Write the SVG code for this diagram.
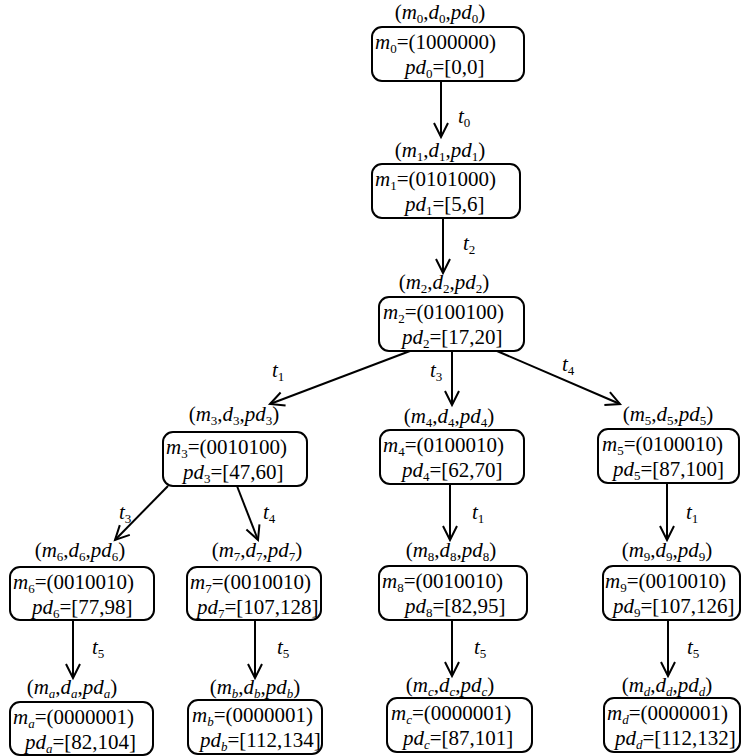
<svg xmlns="http://www.w3.org/2000/svg" width="742" height="756" viewBox="0 0 742 756" font-family="'Liberation Serif', 'Times New Roman', 'DejaVu Serif', serif">
<defs>
<marker id="ah" markerUnits="userSpaceOnUse" markerWidth="20" markerHeight="20" viewBox="-16 -10 20 20" refX="0" refY="0" orient="auto">
<path d="M-14,-7 L0,0 L-14,7" fill="none" stroke="#000" stroke-width="2"/>
</marker>
<style>
text{font-family:'Liberation Serif','Times New Roman','DejaVu Serif',serif;font-size:21px;fill:#000}
.i{font-style:italic}
.sb{font-size:13px;baseline-shift:-4px;font-style:normal}
.si{font-size:13px;baseline-shift:-4px;font-style:italic}
.box{fill:#fff;stroke:#000;stroke-width:2}
.edge{stroke:#000;stroke-width:2;fill:none;marker-end:url(#ah)}
</style>
</defs>
<rect width="742" height="756" fill="#fff"/>
<g id="connectors">
<line class="edge" x1="441" y1="81" x2="441" y2="137"/>
<line class="edge" x1="443" y1="218" x2="443" y2="273"/>
<line class="edge" x1="410" y1="351" x2="270" y2="404"/>
<line class="edge" x1="452" y1="351" x2="452" y2="405"/>
<line class="edge" x1="497" y1="351" x2="620" y2="404"/>
<line class="edge" x1="168" y1="486" x2="115" y2="540"/>
<line class="edge" x1="237" y1="486" x2="258" y2="540"/>
<line class="edge" x1="450" y1="484" x2="450" y2="540"/>
<line class="edge" x1="667" y1="483" x2="667" y2="540"/>
<line class="edge" x1="73" y1="620" x2="73" y2="678"/>
<line class="edge" x1="255" y1="620" x2="255" y2="678"/>
<line class="edge" x1="452" y1="620" x2="452" y2="676"/>
<line class="edge" x1="668" y1="620" x2="668" y2="676"/>
<text class="i" x="458" y="123">t<tspan class="sb">0</tspan></text>
<text class="i" x="463" y="250">t<tspan class="sb">2</tspan></text>
<text class="i" x="272" y="377">t<tspan class="sb">1</tspan></text>
<text class="i" x="430" y="377">t<tspan class="sb">3</tspan></text>
<text class="i" x="562" y="371">t<tspan class="sb">4</tspan></text>
<text class="i" x="119" y="519">t<tspan class="sb">3</tspan></text>
<text class="i" x="263" y="519">t<tspan class="sb">4</tspan></text>
<text class="i" x="472" y="519">t<tspan class="sb">1</tspan></text>
<text class="i" x="686" y="519">t<tspan class="sb">1</tspan></text>
<text class="i" x="92" y="654">t<tspan class="sb">5</tspan></text>
<text class="i" x="277" y="654">t<tspan class="sb">5</tspan></text>
<text class="i" x="474" y="654">t<tspan class="sb">5</tspan></text>
<text class="i" x="687" y="654">t<tspan class="sb">5</tspan></text>
</g>
<g id="n0">
<text x="440" y="19" text-anchor="middle">(<tspan class="i">m</tspan><tspan class="sb">0</tspan>,<tspan class="i">d</tspan><tspan class="sb">0</tspan>,<tspan class="i">pd</tspan><tspan class="sb">0</tspan>)</text>
<rect class="box" x="372" y="27" width="152" height="54" rx="10"/>
<text x="375" y="49"><tspan class="i">m</tspan><tspan class="sb">0</tspan>=(1000000)</text>
<text x="405" y="74"><tspan class="i">pd</tspan><tspan class="sb">0</tspan>=[0,0]</text>
</g>
<g id="n1">
<text x="440" y="157" text-anchor="middle">(<tspan class="i">m</tspan><tspan class="sb">1</tspan>,<tspan class="i">d</tspan><tspan class="sb">1</tspan>,<tspan class="i">pd</tspan><tspan class="sb">1</tspan>)</text>
<rect class="box" x="372" y="164" width="148" height="54" rx="10"/>
<text x="375" y="186"><tspan class="i">m</tspan><tspan class="sb">1</tspan>=(0101000)</text>
<text x="405" y="211"><tspan class="i">pd</tspan><tspan class="sb">1</tspan>=[5,6]</text>
</g>
<g id="n2">
<text x="444" y="289" text-anchor="middle">(<tspan class="i">m</tspan><tspan class="sb">2</tspan>,<tspan class="i">d</tspan><tspan class="sb">2</tspan>,<tspan class="i">pd</tspan><tspan class="sb">2</tspan>)</text>
<rect class="box" x="379" y="297" width="145" height="54" rx="10"/>
<text x="383" y="319"><tspan class="i">m</tspan><tspan class="sb">2</tspan>=(0100100)</text>
<text x="402" y="344"><tspan class="i">pd</tspan><tspan class="sb">2</tspan>=[17,20]</text>
</g>
<g id="n3">
<text x="234" y="421" text-anchor="middle">(<tspan class="i">m</tspan><tspan class="sb">3</tspan>,<tspan class="i">d</tspan><tspan class="sb">3</tspan>,<tspan class="i">pd</tspan><tspan class="sb">3</tspan>)</text>
<rect class="box" x="163" y="432" width="144" height="54" rx="10"/>
<text x="166" y="454"><tspan class="i">m</tspan><tspan class="sb">3</tspan>=(0010100)</text>
<text x="183" y="479"><tspan class="i">pd</tspan><tspan class="sb">3</tspan>=[47,60]</text>
</g>
<g id="n4">
<text x="449" y="423" text-anchor="middle">(<tspan class="i">m</tspan><tspan class="sb">4</tspan>,<tspan class="i">d</tspan><tspan class="sb">4</tspan>,<tspan class="i">pd</tspan><tspan class="sb">4</tspan>)</text>
<rect class="box" x="380" y="430" width="144" height="54" rx="10"/>
<text x="383" y="452"><tspan class="i">m</tspan><tspan class="sb">4</tspan>=(0100010)</text>
<text x="402" y="477"><tspan class="i">pd</tspan><tspan class="sb">4</tspan>=[62,70]</text>
</g>
<g id="n5">
<text x="668" y="421" text-anchor="middle">(<tspan class="i">m</tspan><tspan class="sb">5</tspan>,<tspan class="i">d</tspan><tspan class="sb">5</tspan>,<tspan class="i">pd</tspan><tspan class="sb">5</tspan>)</text>
<rect class="box" x="598" y="429" width="141" height="54" rx="10"/>
<text x="602" y="451"><tspan class="i">m</tspan><tspan class="sb">5</tspan>=(0100010)</text>
<text x="613" y="476"><tspan class="i">pd</tspan><tspan class="sb">5</tspan>=[87,100]</text>
</g>
<g id="n6">
<text x="80" y="557" text-anchor="middle">(<tspan class="i">m</tspan><tspan class="sb">6</tspan>,<tspan class="i">d</tspan><tspan class="sb">6</tspan>,<tspan class="i">pd</tspan><tspan class="sb">6</tspan>)</text>
<rect class="box" x="10" y="567" width="144" height="53" rx="10"/>
<text x="13" y="589"><tspan class="i">m</tspan><tspan class="sb">6</tspan>=(0010010)</text>
<text x="32" y="614"><tspan class="i">pd</tspan><tspan class="sb">6</tspan>=[77,98]</text>
</g>
<g id="n7">
<text x="257" y="557" text-anchor="middle">(<tspan class="i">m</tspan><tspan class="sb">7</tspan>,<tspan class="i">d</tspan><tspan class="sb">7</tspan>,<tspan class="i">pd</tspan><tspan class="sb">7</tspan>)</text>
<rect class="box" x="187" y="567" width="134" height="53" rx="10"/>
<text x="190" y="589"><tspan class="i">m</tspan><tspan class="sb">7</tspan>=(0010010)</text>
<text x="197" y="614"><tspan class="i">pd</tspan><tspan class="sb">7</tspan>=[107,128]</text>
</g>
<g id="n8">
<text x="451" y="557" text-anchor="middle">(<tspan class="i">m</tspan><tspan class="sb">8</tspan>,<tspan class="i">d</tspan><tspan class="sb">8</tspan>,<tspan class="i">pd</tspan><tspan class="sb">8</tspan>)</text>
<rect class="box" x="379" y="566" width="148" height="54" rx="10"/>
<text x="382" y="588"><tspan class="i">m</tspan><tspan class="sb">8</tspan>=(0010010)</text>
<text x="405" y="613"><tspan class="i">pd</tspan><tspan class="sb">8</tspan>=[82,95]</text>
</g>
<g id="n9">
<text x="667" y="557" text-anchor="middle">(<tspan class="i">m</tspan><tspan class="sb">9</tspan>,<tspan class="i">d</tspan><tspan class="sb">9</tspan>,<tspan class="i">pd</tspan><tspan class="sb">9</tspan>)</text>
<rect class="box" x="603" y="566" width="137" height="54" rx="10"/>
<text x="605" y="588"><tspan class="i">m</tspan><tspan class="sb">9</tspan>=(0010010)</text>
<text x="613" y="613"><tspan class="i">pd</tspan><tspan class="sb">9</tspan>=[107,126]</text>
</g>
<g id="na">
<text x="72" y="694" text-anchor="middle">(<tspan class="i">m</tspan><tspan class="si">a</tspan>,<tspan class="i">d</tspan><tspan class="si">a</tspan>,<tspan class="i">pd</tspan><tspan class="si">a</tspan>)</text>
<rect class="box" x="10" y="702" width="143" height="53" rx="10"/>
<text x="13" y="724"><tspan class="i">m</tspan><tspan class="si">a</tspan>=(0000001)</text>
<text x="25" y="749"><tspan class="i">pd</tspan><tspan class="si">a</tspan>=[82,104]</text>
</g>
<g id="nb">
<text x="255" y="694" text-anchor="middle">(<tspan class="i">m</tspan><tspan class="si">b</tspan>,<tspan class="i">d</tspan><tspan class="si">b</tspan>,<tspan class="i">pd</tspan><tspan class="si">b</tspan>)</text>
<rect class="box" x="188" y="700" width="134" height="54" rx="10"/>
<text x="192" y="722"><tspan class="i">m</tspan><tspan class="si">b</tspan>=(0000001)</text>
<text x="200" y="747"><tspan class="i">pd</tspan><tspan class="si">b</tspan>=[112,134]</text>
</g>
<g id="nc">
<text x="450" y="692" text-anchor="middle">(<tspan class="i">m</tspan><tspan class="si">c</tspan>,<tspan class="i">d</tspan><tspan class="si">c</tspan>,<tspan class="i">pd</tspan><tspan class="si">c</tspan>)</text>
<rect class="box" x="387" y="698" width="145" height="54" rx="10"/>
<text x="391" y="720"><tspan class="i">m</tspan><tspan class="si">c</tspan>=(0000001)</text>
<text x="403" y="745"><tspan class="i">pd</tspan><tspan class="si">c</tspan>=[87,101]</text>
</g>
<g id="nd">
<text x="667" y="692" text-anchor="middle">(<tspan class="i">m</tspan><tspan class="si">d</tspan>,<tspan class="i">d</tspan><tspan class="si">d</tspan>,<tspan class="i">pd</tspan><tspan class="si">d</tspan>)</text>
<rect class="box" x="604" y="698" width="136" height="54" rx="10"/>
<text x="607" y="720"><tspan class="i">m</tspan><tspan class="si">d</tspan>=(0000001)</text>
<text x="615" y="745"><tspan class="i">pd</tspan><tspan class="si">d</tspan>=[112,132]</text>
</g>
</svg>
